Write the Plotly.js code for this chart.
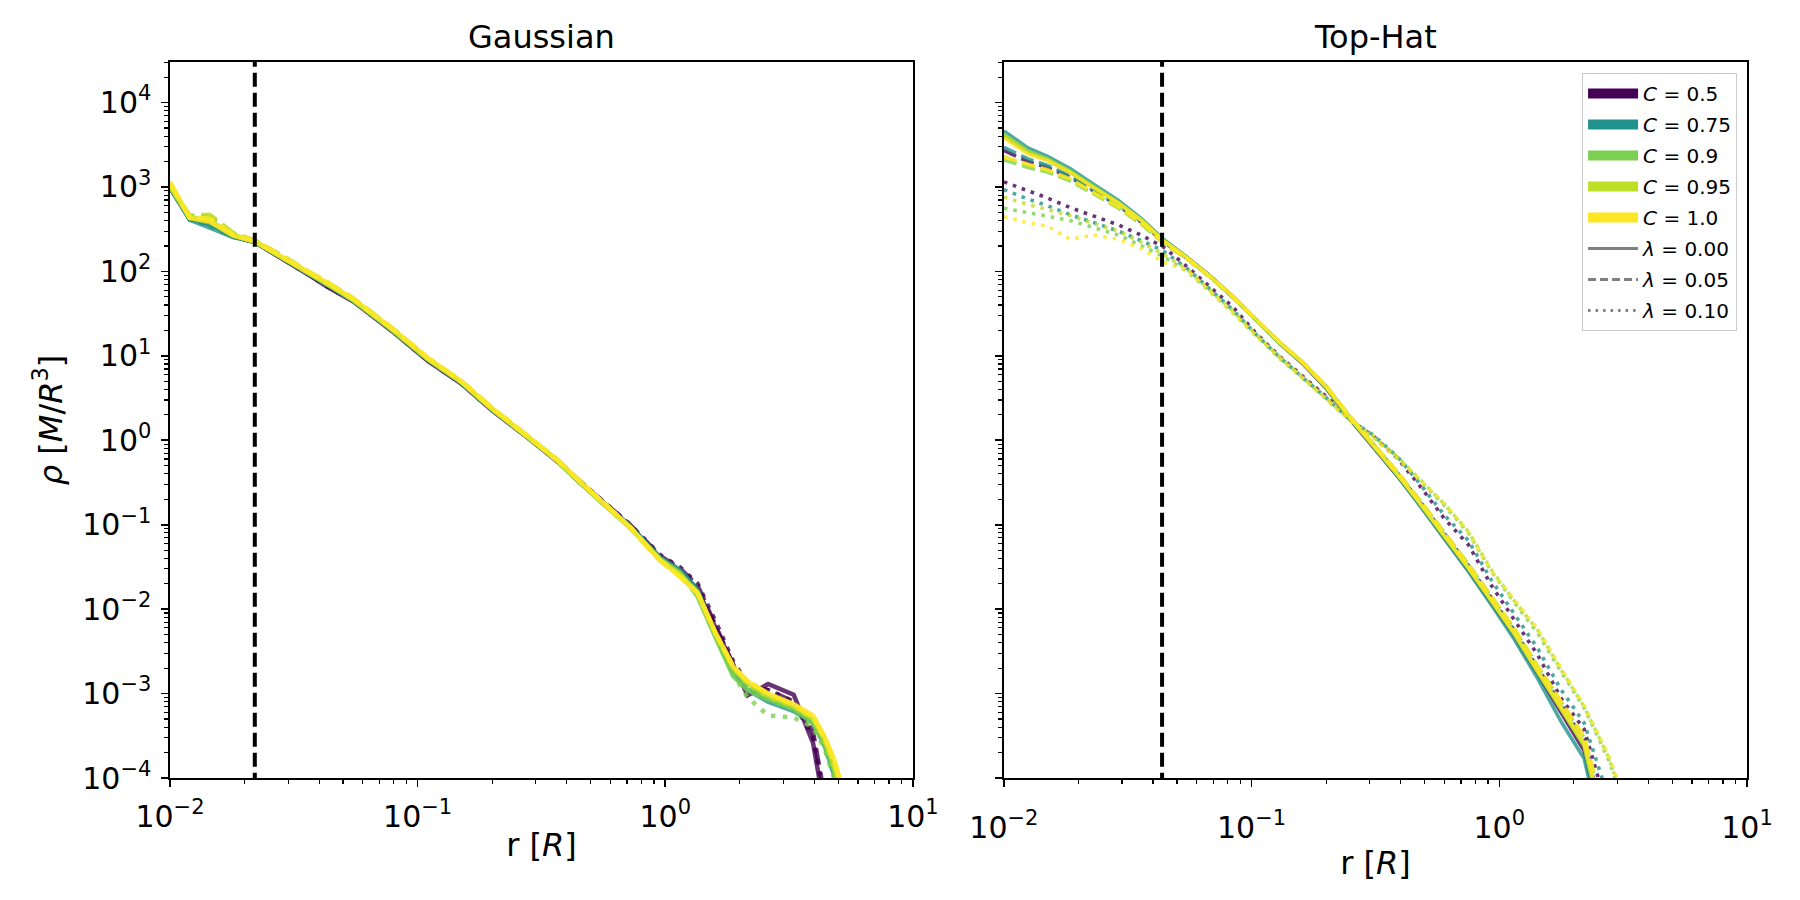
<!DOCTYPE html>
<html><head><meta charset="utf-8">
<script src="https://cdn.plot.ly/plotly-3.0.1.min.js"></script>
<style>html,body{margin:0;padding:0;background:#fff}</style>
</head><body><div id="chart" style="width:1800px;height:900px"></div>
<script>
// ---------------- data ----------------
const panelTitles = ['Gaussian', 'Top-Hat'];
const C_labels = ['0.5', '0.75', '0.9', '0.95', '1.0'];
const lambda_labels = ['0.00', '0.05', '0.10'];
const rCut_gauss = 0.022;
const rCut_tophat = 0.0435;

// Gaussian panel radii
const r_gauss = [0.01, 0.012, 0.0145, 0.018, 0.022, 0.028, 0.037, 0.043, 0.055, 0.079, 0.11, 0.15, 0.2, 0.275, 0.37, 0.45, 0.55, 0.72, 0.95, 1.15, 1.35, 1.6, 1.88, 2.15, 2.6, 3.3, 3.95, 4.4, 4.8, 5.3];
// lambda = 0.00
const g_C050_L000 = [980, 420, 370, 260, 222, 146, 88, 66, 44, 19.5, 8.7, 4.7, 2.25, 1.1, 0.55, 0.32, 0.19, 0.097, 0.041, 0.028, 0.017, 0.006, 0.0022, 0.00095, 0.0013, 0.00097, 0.00026, 0.00004, 0.00001, 0.000003];
const g_C075_L000 = [1000, 410, 330, 255, 224, 148, 91, 70, 45, 20, 9.0, 4.8, 2.3, 1.12, 0.56, 0.32, 0.19, 0.096, 0.041, 0.029, 0.017, 0.0048, 0.0017, 0.0011, 0.0008, 0.00062, 0.00045, 0.00024, 0.00011, 0.00004];
const g_C090_L000 = [1000, 430, 380, 265, 225, 150, 92, 71, 45, 20, 9.0, 4.85, 2.3, 1.12, 0.56, 0.32, 0.185, 0.093, 0.040, 0.027, 0.014, 0.0045, 0.0016, 0.0011, 0.00085, 0.00065, 0.00045, 0.00025, 0.00012, 0.00004];
const g_C095_L000 = [1050, 440, 400, 270, 228, 150, 93, 72, 46, 20.5, 9.2, 4.9, 2.35, 1.13, 0.56, 0.32, 0.185, 0.092, 0.039, 0.026, 0.016, 0.005, 0.002, 0.0013, 0.00095, 0.0007, 0.0005, 0.00028, 0.00014, 0.00005];
const g_C100_L000 = [1150, 430, 390, 265, 226, 152, 94, 74, 47, 21, 9.4, 5.0, 2.4, 1.15, 0.57, 0.33, 0.19, 0.094, 0.038, 0.024, 0.0155, 0.0052, 0.0021, 0.0014, 0.001, 0.00075, 0.00055, 0.00031, 0.00017, 0.00006];
// lambda = 0.05
const g_C050_L005 = [1000, 430, 390, 262, 224, 148, 90, 68, 45, 20, 8.9, 4.8, 2.3, 1.12, 0.56, 0.33, 0.195, 0.1, 0.043, 0.03, 0.019, 0.0065, 0.0022, 0.0012, 0.0011, 0.0008, 0.00035, 0.00006, 0.00001, 0.000003];
const g_C075_L005 = [1000, 420, 360, 258, 225, 150, 92, 71, 45, 20.3, 9.1, 4.85, 2.32, 1.13, 0.565, 0.325, 0.19, 0.095, 0.04, 0.027, 0.016, 0.005, 0.0019, 0.0013, 0.0009, 0.0007, 0.00048, 0.00026, 0.00012, 0.00004];
const g_C090_L005 = [1020, 450, 450, 280, 230, 155, 95, 74, 47, 21, 9.3, 5.0, 2.38, 1.15, 0.57, 0.33, 0.19, 0.093, 0.038, 0.025, 0.015, 0.0048, 0.0019, 0.0013, 0.0009, 0.0007, 0.0005, 0.00028, 0.00013, 0.00005];
const g_C095_L005 = [1050, 460, 467, 285, 232, 158, 96, 75, 48, 21.2, 9.4, 5.0, 2.4, 1.16, 0.575, 0.33, 0.19, 0.093, 0.038, 0.025, 0.0155, 0.005, 0.002, 0.0014, 0.00095, 0.00072, 0.00052, 0.0003, 0.00015, 0.00005];
const g_C100_L005 = [1100, 440, 420, 275, 230, 155, 95, 74, 47, 21, 9.4, 5.0, 2.4, 1.15, 0.57, 0.33, 0.19, 0.094, 0.038, 0.024, 0.0155, 0.0051, 0.0021, 0.0014, 0.001, 0.00074, 0.00053, 0.0003, 0.00016, 0.00006];
// lambda = 0.10
const g_C050_L010 = [990, 425, 380, 262, 223, 147, 89, 67, 44.5, 19.8, 8.8, 4.75, 2.28, 1.11, 0.555, 0.33, 0.2, 0.1, 0.044, 0.031, 0.02, 0.007, 0.0024, 0.0013, 0.0011, 0.0008, 0.0003, 0.00005, 0.00001, 0.000003];
const g_C075_L010 = [1000, 415, 350, 258, 224, 149, 91, 70, 45, 20.2, 9.0, 4.82, 2.31, 1.13, 0.56, 0.325, 0.19, 0.096, 0.041, 0.028, 0.017, 0.0049, 0.0018, 0.0012, 0.00085, 0.00065, 0.00046, 0.00025, 0.00011, 0.00004];
const g_C090_L010 = [1010, 440, 420, 270, 228, 152, 93, 72, 46, 20.6, 9.2, 4.9, 2.35, 1.14, 0.565, 0.325, 0.19, 0.094, 0.039, 0.025, 0.015, 0.0047, 0.0017, 0.0009, 0.00055, 0.00052, 0.0004, 0.00022, 0.0001, 0.00004];
const g_C095_L010 = [1040, 450, 440, 278, 230, 155, 95, 74, 47, 21, 9.3, 4.95, 2.38, 1.15, 0.57, 0.33, 0.19, 0.093, 0.038, 0.025, 0.0155, 0.005, 0.002, 0.0013, 0.0009, 0.0007, 0.0005, 0.00028, 0.00014, 0.00005];
const g_C100_L010 = [1100, 435, 410, 272, 229, 154, 95, 74, 47, 21, 9.4, 5.0, 2.4, 1.15, 0.57, 0.33, 0.19, 0.094, 0.038, 0.024, 0.0155, 0.0051, 0.0021, 0.0014, 0.001, 0.00074, 0.00054, 0.0003, 0.00016, 0.00006];

// Top-Hat panel radii
const r_tophat = [0.01, 0.0125, 0.015, 0.0185, 0.023, 0.029, 0.036, 0.044, 0.055, 0.068, 0.084, 0.105, 0.13, 0.16, 0.2, 0.25, 0.31, 0.39, 0.48, 0.6, 0.75, 0.93, 1.15, 1.43, 1.78, 2.2, 2.75, 3.2];
// lambda = 0.00
const t_C050_L000 = [4000, 2600, 2100, 1500, 1000, 650, 400, 235, 145, 88, 50, 26, 14, 8.2, 4.1, 1.75, 0.82, 0.37, 0.17, 0.071, 0.029, 0.0118, 0.0048, 0.0017, 0.0006, 0.00021, 0.000012, 0.000001];
const t_C075_L000 = [4600, 2900, 2300, 1650, 1080, 690, 420, 240, 146, 88, 50, 26, 14, 8.3, 4.2, 1.8, 0.83, 0.37, 0.165, 0.068, 0.028, 0.0112, 0.0044, 0.0015, 0.00046, 0.00017, 0.00001, 0.000001];
const t_C090_L000 = [4200, 2700, 2150, 1550, 1020, 660, 405, 234, 144, 87, 50, 26, 14, 8.3, 4.2, 1.8, 0.84, 0.38, 0.174, 0.073, 0.030, 0.0123, 0.0050, 0.0018, 0.00065, 0.00024, 0.000015, 0.000001];
const t_C095_L000 = [4100, 2600, 2100, 1520, 1000, 650, 402, 233, 144, 87, 50, 26, 14.2, 8.4, 4.25, 1.82, 0.85, 0.39, 0.176, 0.074, 0.031, 0.0125, 0.0051, 0.0018, 0.00066, 0.00024, 0.000016, 0.000001];
const t_C100_L000 = [3800, 2450, 2050, 1480, 980, 640, 400, 232, 144, 87, 51, 26.5, 14.3, 8.5, 4.3, 1.85, 0.86, 0.39, 0.178, 0.075, 0.031, 0.0127, 0.0052, 0.00185, 0.00068, 0.00026, 0.00002, 0.000001];
// lambda = 0.05
const t_C050_L005 = [2700, 2000, 1700, 1300, 900, 600, 380, 225, 142, 87, 50, 26.5, 14.3, 8.4, 4.3, 1.85, 0.88, 0.40, 0.185, 0.078, 0.033, 0.0135, 0.0056, 0.002, 0.00075, 0.00028, 0.00002, 0.000001];
const t_C075_L005 = [2950, 2150, 1800, 1350, 920, 610, 385, 228, 143, 87, 50, 26.5, 14.2, 8.4, 4.3, 1.85, 0.87, 0.40, 0.18, 0.076, 0.032, 0.013, 0.0054, 0.0019, 0.0007, 0.00026, 0.00002, 0.000001];
const t_C090_L005 = [2100, 1700, 1500, 1180, 830, 560, 360, 218, 140, 86, 50, 26.5, 14.3, 8.5, 4.35, 1.88, 0.89, 0.41, 0.19, 0.080, 0.034, 0.014, 0.0058, 0.0021, 0.00078, 0.0003, 0.000025, 0.000001];
const t_C095_L005 = [2300, 1800, 1550, 1220, 850, 570, 365, 220, 140, 86, 50, 26.6, 14.4, 8.5, 4.4, 1.9, 0.9, 0.41, 0.19, 0.080, 0.034, 0.014, 0.0058, 0.0021, 0.00078, 0.0003, 0.000025, 0.000001];
const t_C100_L005 = [2250, 1850, 1600, 1250, 870, 580, 370, 222, 141, 86, 50, 26.8, 14.5, 8.6, 4.4, 1.9, 0.9, 0.41, 0.19, 0.081, 0.034, 0.014, 0.0059, 0.0021, 0.0008, 0.00031, 0.000028, 0.000001];
// lambda = 0.10
const t_C050_L010 = [1150, 900, 740, 570, 453, 355, 267, 195, 113, 65, 38, 18, 9.8, 5.8, 3.3, 1.75, 1.12, 0.60, 0.283, 0.118, 0.058, 0.019, 0.0074, 0.00285, 0.00087, 0.00038, 0.00004, 0.000005];
const t_C075_L010 = [930, 720, 600, 470, 380, 300, 230, 175, 108, 62, 35, 17.5, 9.6, 5.6, 3.2, 1.75, 1.15, 0.63, 0.30, 0.13, 0.065, 0.022, 0.0088, 0.0034, 0.0011, 0.00045, 0.00006, 0.000008];
const t_C090_L010 = [560, 490, 450, 400, 330, 270, 200, 150, 100, 58, 33, 17, 9.3, 5.5, 3.1, 1.72, 1.1, 0.62, 0.33, 0.17, 0.08, 0.028, 0.012, 0.0052, 0.0018, 0.00068, 0.00017, 0.00005];
const t_C095_L010 = [760, 620, 540, 460, 370, 300, 220, 160, 105, 60, 34, 17.5, 9.5, 5.6, 3.15, 1.75, 1.12, 0.63, 0.34, 0.175, 0.083, 0.029, 0.0125, 0.0056, 0.0019, 0.0007, 0.00018, 0.00005];
const t_C100_L010 = [445, 375, 345, 240, 270, 240, 185, 128, 104, 57, 32, 17, 9.5, 5.6, 3.1, 1.7, 1.05, 0.6, 0.34, 0.18, 0.082, 0.028, 0.013, 0.0058, 0.0020, 0.00072, 0.00019, 0.00006];

// ---------------- styling ----------------
const viridis = ['68,1,84', '33,145,140', '122,209,81', '189,223,38', '253,231,37'];
const gaussSeries = [
  [g_C050_L000, g_C050_L005, g_C050_L010],
  [g_C075_L000, g_C075_L005, g_C075_L010],
  [g_C090_L000, g_C090_L005, g_C090_L010],
  [g_C095_L000, g_C095_L005, g_C095_L010],
  [g_C100_L000, g_C100_L005, g_C100_L010]
];
const tophatSeries = [
  [t_C050_L000, t_C050_L005, t_C050_L010],
  [t_C075_L000, t_C075_L005, t_C075_L010],
  [t_C090_L000, t_C090_L005, t_C090_L010],
  [t_C095_L000, t_C095_L005, t_C095_L010],
  [t_C100_L000, t_C100_L005, t_C100_L010]
];
function dashFor(li, w) {
  if (li === 0) return 'solid';
  if (li === 1) return (3.7 * w).toFixed(1) + 'px,' + (1.6 * w).toFixed(1) + 'px';
  return (1.0 * w).toFixed(1) + 'px,' + (1.65 * w).toFixed(1) + 'px';
}
const traces = [];
function addPanel(rArr, series, xa, ya, w) {
  for (let ci = 0; ci < series.length; ci++) {
    for (let li = 0; li < series[ci].length; li++) {
      traces.push({
        type: 'scatter', mode: 'lines', x: rArr, y: series[ci][li],
        xaxis: xa, yaxis: ya, showlegend: false, hoverinfo: 'skip',
        line: {color: 'rgba(' + viridis[ci] + ',0.8)', width: w, dash: dashFor(li, w)}
      });
    }
  }
}
addPanel(r_gauss, gaussSeries, 'x', 'y', 4.5);
addPanel(r_tophat, tophatSeries, 'x2', 'y2', 3.6);

// vertical dashed reference lines
const yFull = [1e-6, 1e6];
traces.push({type: 'scatter', mode: 'lines', x: [rCut_gauss, rCut_gauss], y: yFull, xaxis: 'x', yaxis: 'y',
  showlegend: false, hoverinfo: 'skip', line: {color: 'black', width: 4, dash: '14px,6px'}});
traces.push({type: 'scatter', mode: 'lines', x: [rCut_tophat, rCut_tophat], y: yFull, xaxis: 'x2', yaxis: 'y2',
  showlegend: false, hoverinfo: 'skip', line: {color: 'black', width: 4, dash: '14px,6px'}});

// legend entries
C_labels.forEach((c, i) => {
  traces.push({type: 'scatter', mode: 'lines', x: [null], y: [null], xaxis: 'x2', yaxis: 'y2',
    name: '<i>C</i> = ' + c, legendgroup: 'c' + i, showlegend: true, hoverinfo: 'skip',
    line: {color: 'rgb(' + viridis[i] + ')', width: 17}});
});
lambda_labels.forEach((l, i) => {
  traces.push({type: 'scatter', mode: 'lines', x: [null], y: [null], xaxis: 'x2', yaxis: 'y2',
    name: '<i>λ</i> = ' + l, legendgroup: 'l' + i, showlegend: true, hoverinfo: 'skip',
    line: {color: 'gray', width: 3, dash: i === 0 ? 'solid' : (i === 1 ? '8px,4px' : '2.5px,5px')}});
});

// ticks
const sup = n => n < 0 ? '\u2212' + Math.abs(n) : '' + n;
const xExp = [-2, -1, 0, 1];
const yExp = [-4, -3, -2, -1, 0, 1, 2, 3, 4];
const xTickVals = xExp.map(e => Math.pow(10, e));
const xTickText = xExp.map(e => '10<sup>' + sup(e) + '</sup>');
const yTickVals = yExp.map(e => Math.pow(10, e));
const yTickText = yExp.map(e => '10<sup>' + sup(e) + '</sup>');
function minorVals(lo, hi) {
  const v = [];
  for (let e = lo; e <= hi; e++) for (let m = 2; m <= 9; m++) v.push(m * Math.pow(10, e));
  return v;
}
const xMinor = minorVals(-2, 0);
const yMinor = minorVals(-5, 4);

const tickFont = {family: 'DejaVu Sans', size: 30, color: 'black'};
const axisCommon = {
  type: 'log', showgrid: false, zeroline: false, showline: true, mirror: true,
  linecolor: 'black', linewidth: 1.6, ticks: 'outside', ticklen: 7, tickwidth: 1.6, tickcolor: 'black',
  tickmode: 'array', tickfont: tickFont
};
const xMinorObj = {tickmode: 'array', tickvals: xMinor, ticks: 'outside', ticklen: 4, tickwidth: 1.2, tickcolor: 'black', showgrid: false};
const yMinorObj = {tickmode: 'array', tickvals: yMinor, ticks: 'outside', ticklen: 4, tickwidth: 1.2, tickcolor: 'black', showgrid: false};

const xTitleFont = {family: 'DejaVu Sans', size: 32, color: 'black'};

const layout = {
  width: 1800, height: 900,
  margin: {l: 170, r: 53, t: 62, b: 122, pad: 0},
  paper_bgcolor: 'white', plot_bgcolor: 'white',
  font: {family: 'DejaVu Sans', color: 'black'},
  showlegend: true,
  legend: {x: 0.9937, y: 0.9846, xanchor: 'right', yanchor: 'top', xref: 'paper', yref: 'paper',
    bgcolor: 'rgba(255,255,255,0.85)', bordercolor: '#cccccc', borderwidth: 1,
    font: {family: 'DejaVu Sans', size: 20, color: 'black'}, itemwidth: 50, tracegroupgap: 2, traceorder: 'grouped'},
  xaxis: Object.assign({}, axisCommon, {domain: [0, 0.4711], range: [-2, 1], anchor: 'y',
    tickvals: xTickVals, ticktext: xTickText, minor: xMinorObj, ticklabelstandoff: 4,
    title: {text: 'r [<i>R</i>]', font: xTitleFont, standoff: 1}}),
  yaxis: Object.assign({}, axisCommon, {domain: [0, 1], range: [-4, 4.48], anchor: 'x',
    tickvals: yTickVals, ticktext: yTickText, minor: yMinorObj, ticklabelstandoff: 4,
    title: {text: '<i>ρ</i> [<i>M</i>/<i>R</i><sup>3</sup>]', font: {family: 'DejaVu Sans', size: 32, color: 'black'}, standoff: 10}}),
  xaxis2: Object.assign({}, axisCommon, {domain: [0.5288, 1], range: [-2, 1], anchor: 'y2',
    tickvals: xTickVals, ticktext: xTickText, minor: xMinorObj, ticklabelstandoff: 15,
    title: {text: 'r [<i>R</i>]', font: xTitleFont, standoff: 8}}),
  yaxis2: Object.assign({}, axisCommon, {domain: [0, 1], range: [-4, 4.48], anchor: 'x2',
    tickvals: yTickVals, ticktext: yTickText, minor: yMinorObj, showticklabels: false}),
  annotations: [
    {text: panelTitles[0], xref: 'x domain', yref: 'paper', x: 0.5, y: 1.035, xanchor: 'center', yanchor: 'middle',
      showarrow: false, font: {family: 'DejaVu Sans', size: 32, color: 'black'}},
    {text: panelTitles[1], xref: 'x2 domain', yref: 'paper', x: 0.5, y: 1.035, xanchor: 'center', yanchor: 'middle',
      showarrow: false, font: {family: 'DejaVu Sans', size: 32, color: 'black'}}
  ]
};

Plotly.newPlot('chart', traces, layout, {displayModeBar: false, staticPlot: true});
</script></body></html>
